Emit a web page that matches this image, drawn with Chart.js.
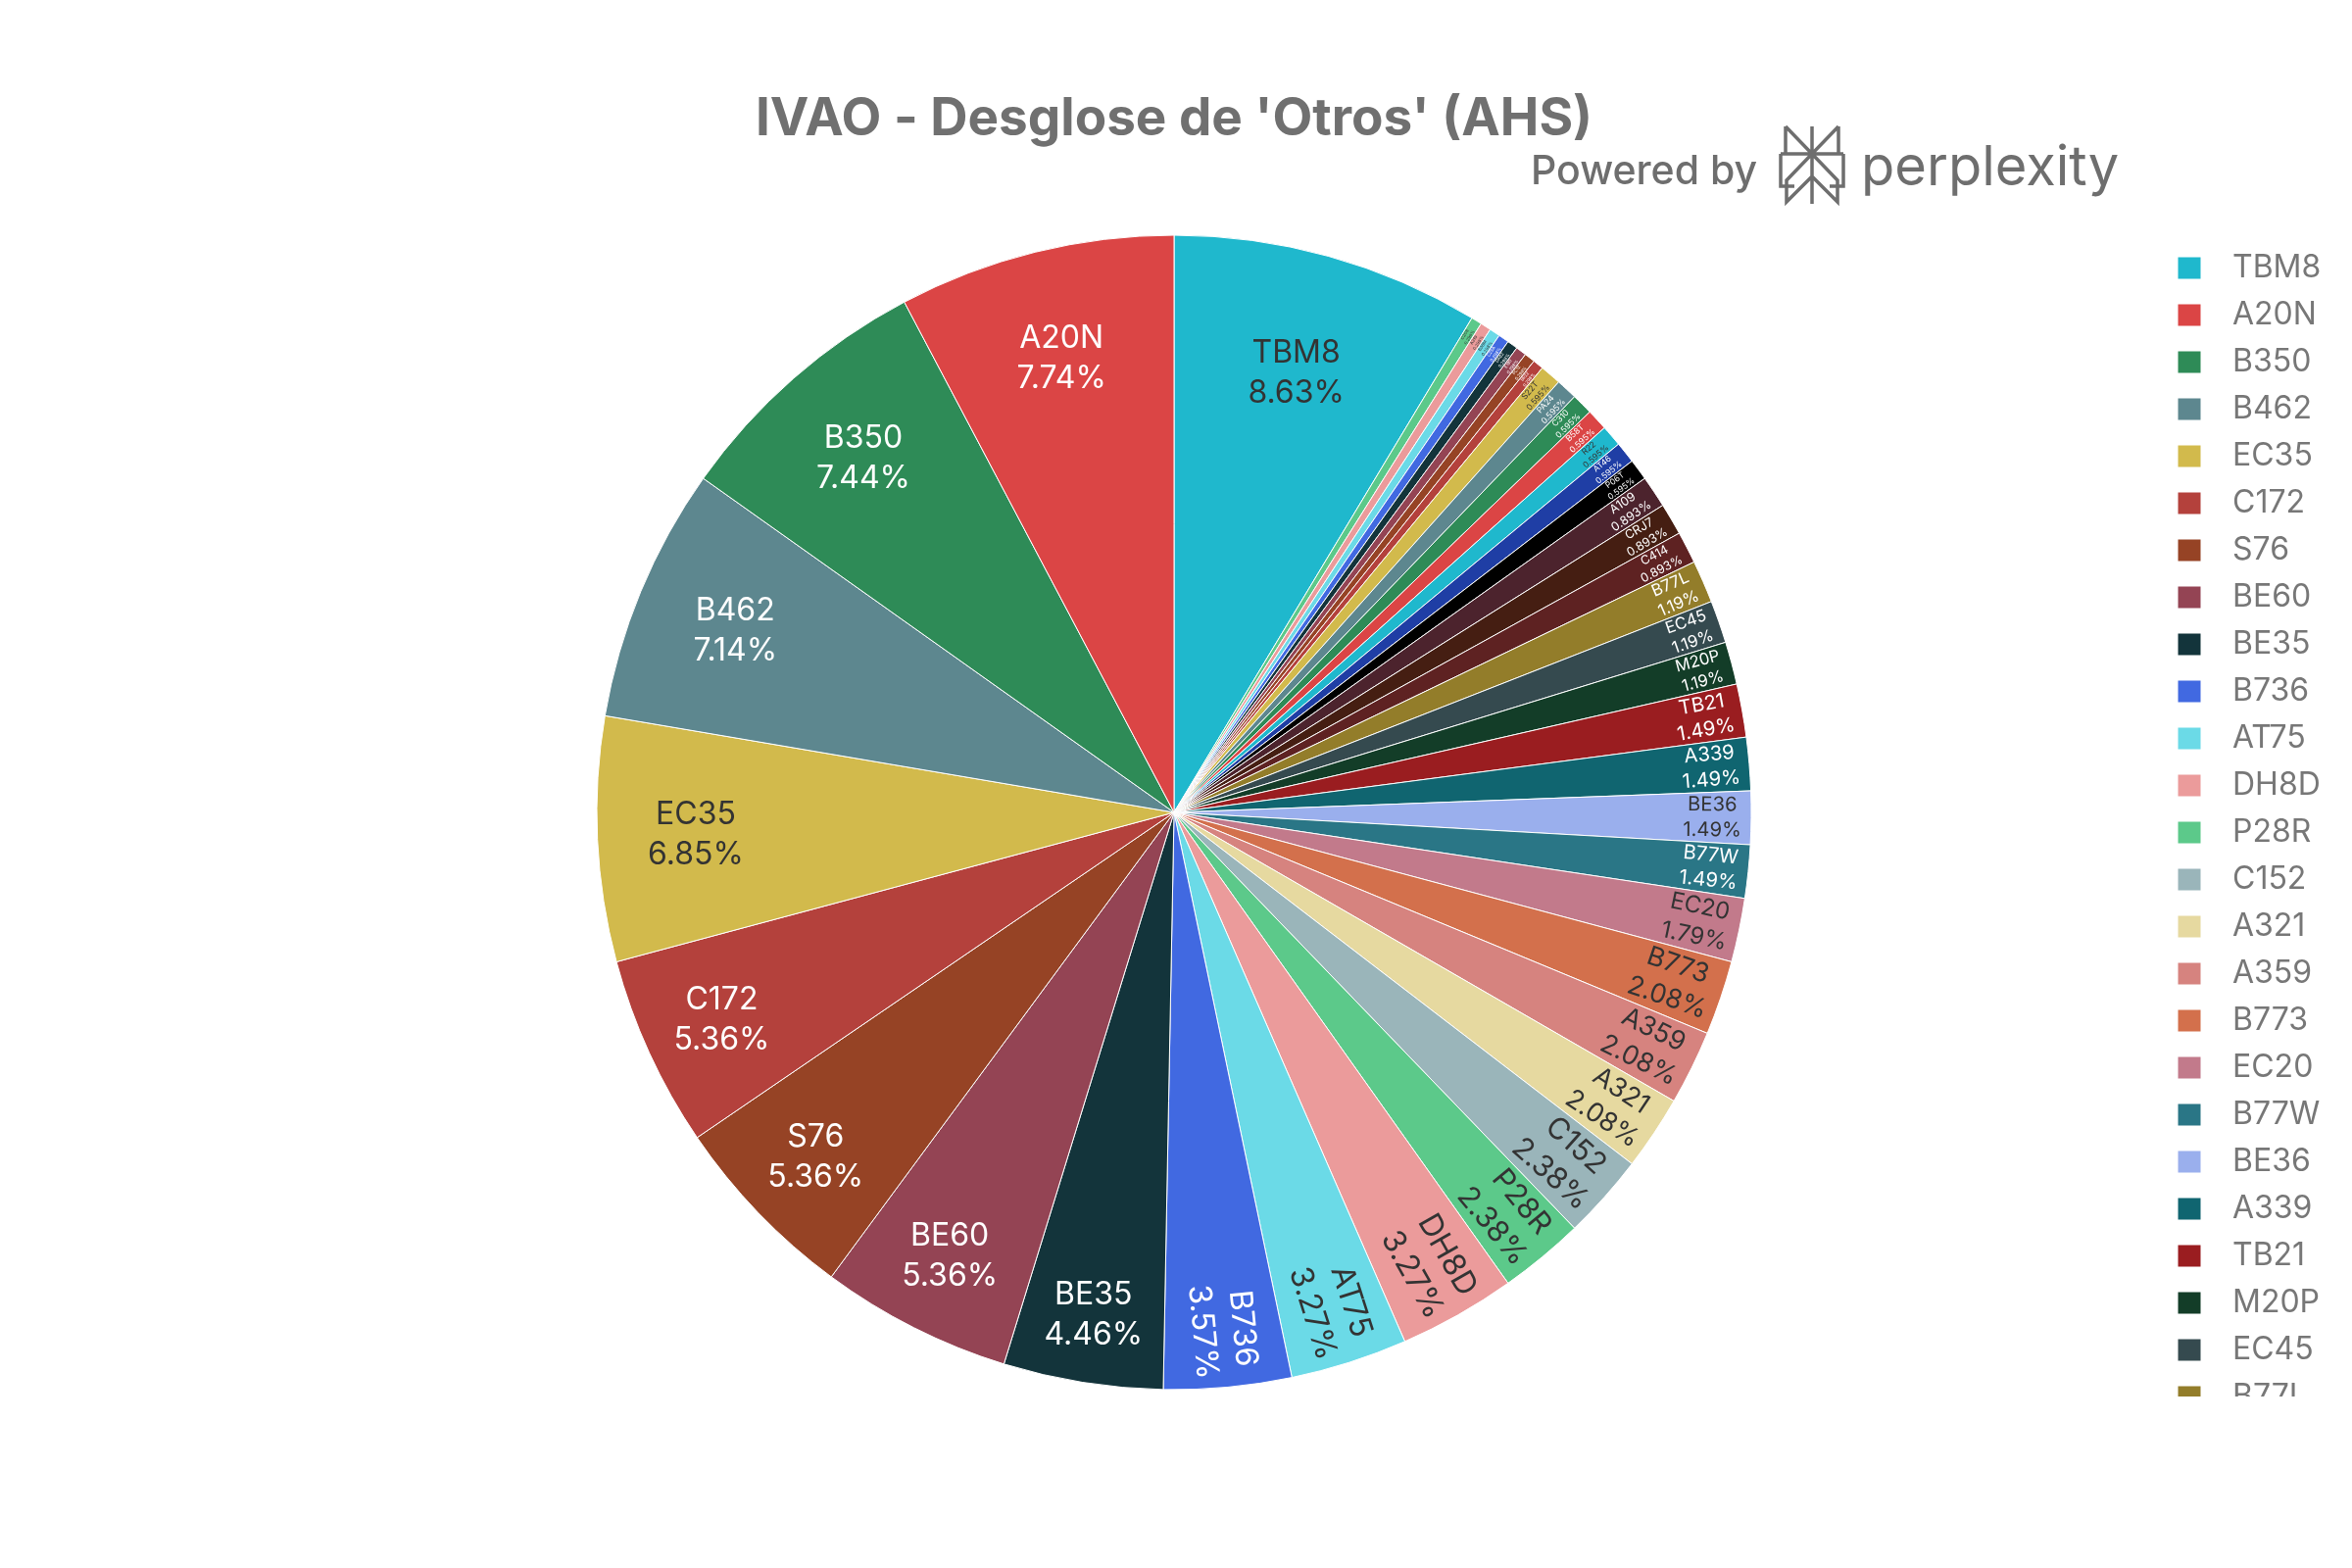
<!DOCTYPE html>
<html>
<head>
<meta charset="utf-8">
<title>IVAO - Desglose de 'Otros' (AHS)</title>
<script src="https://cdn.jsdelivr.net/npm/chart.js@4.4.1/dist/chart.umd.min.js"></script>
<style>
  html, body { margin: 0; padding: 0; background: #ffffff; }
  #wrap { width: 2400px; height: 1600px; position: relative; }
</style>
</head>
<body>
<div id="wrap"><canvas id="graphic-otros"></canvas></div>
<script>
// aircraft types, in legend order (largest first)
const categories = [
    'TBM8', 'A20N', 'B350', 'B462', 'EC35', 'C172', 'S76', 'BE60', 'BE35', 'B736',
    'AT75', 'DH8D', 'P28R', 'C152', 'A321', 'A359', 'B773', 'EC20', 'B77W', 'BE36',
    'A339', 'TB21', 'M20P', 'EC45', 'B77L', 'C414', 'CRJ7', 'A109', 'P06T', 'AT46',
    'R22', 'B58T', 'C310', 'PA24', 'S22T', 'SR22', 'PC12', 'E190', 'DA62', 'C25A',
    'B38M', 'A319', 'C208'
];

// flights per type (336 in total)
const flights = [
    29, 26, 25, 24, 23, 18, 18, 18, 15, 12,
    11, 11, 8, 8, 7, 7, 7, 6, 5, 5,
    5, 5, 4, 4, 4, 3, 3, 3, 2, 2,
    2, 2, 2, 2, 2, 1, 1, 1, 1, 1,
    1, 1, 1
];

const palette = [
    '#1FB8CD', '#DB4545', '#2E8B57', '#5D878F', '#D2BA4C', '#B4413C', '#964325', '#944454', '#13343B', '#4169E1',
    '#6BDAE7', '#EB9B9B', '#5CC98A', '#9AB5BA', '#E6D9A0', '#D6837F', '#D3704C', '#C27A8B', '#2A7686', '#9AAFED',
    '#106570', '#9A1D20', '#133D28', '#354A4F', '#937D2A', '#5E2222', '#451E12', '#4C232D', '#000000', '#1F3EA5'
];

const legendRows = 25;

// first slice clockwise from the top, the rest run counter-clockwise from A20N
const order = [0];
for (let i = categories.length - 1; i > 0; i--) order.push(i);

const pieCenterX = 1198;
const pieRadius = 589;
const legendLeft = 2206;

const probe = document.createElement('canvas').getContext('2d');
probe.font = '32px Inter';
const legendTextW = Math.max(...categories.slice(0, legendRows).map(t => probe.measureText('\u2002' + t).width));
const padRight = 2400 - legendLeft - (16 + 24 + 16 + legendTextW + 10);
const padLeft = 2 * pieCenterX - legendLeft;

function textColour(hex) {
    const c = [1, 3, 5]
        .map(k => parseInt(hex.substr(k, 2), 16) / 255)
        .map(v => v <= 0.03928 ? v / 12.92 : Math.pow((v + 0.055) / 1.055, 2.4));
    const lum = 0.2126 * c[0] + 0.7152 * c[1] + 0.0722 * c[2];
    return lum > 0.235 ? '#333333' : '#ffffff';
}

const sliceLabels = {
    id: 'sliceLabels',
    afterDatasetsDraw(chart) {
        const ctx = chart.ctx;
        const ds = chart.data.datasets[0];
        const total = ds.data.reduce((a, b) => a + b, 0);
        chart.getDatasetMeta(0).data.forEach((arc, i) => {
            const {x, y, startAngle, endAngle, outerRadius} =
                arc.getProps(['x', 'y', 'startAngle', 'endAngle', 'outerRadius'], true);
            const share = ds.data[i] / total;
            const lines = [chart.data.labels[i], (share * 100).toPrecision(3) + '%'];
            const mid = (startAngle + endAngle) / 2;
            const span = endAngle - startAngle;
            let size, d, rot;
            if (share >= 0.04) {
                size = 32;
                d = outerRadius * (0.98 - 2.2 * share);
                rot = 0;
            } else {
                ctx.font = '100px Inter';
                const w1 = Math.max(...lines.map(t => ctx.measureText(t).width)) / 100;
                const pad = 10;
                size = Math.min(32, span * (outerRadius - pad) / (2.4 + span * w1));
                d = outerRadius - pad - size * w1 / 2;
                rot = Math.cos(mid) >= 0 ? mid : mid + Math.PI;
            }
            ctx.save();
            ctx.translate(x + d * Math.cos(mid), y + d * Math.sin(mid));
            ctx.rotate(rot);
            ctx.fillStyle = textColour(ds.backgroundColor[i]);
            ctx.textAlign = 'center';
            ctx.textBaseline = 'middle';
            ctx.font = size + 'px Inter';
            const lh = size * 1.28;
            ctx.fillText(lines[0], 0, -lh / 2);
            ctx.fillText(lines[1], 0, lh / 2);
            ctx.restore();
        });
    }
};

const watermark = {
    id: 'watermark',
    afterDraw(chart) {
        const ctx = chart.ctx;
        const lg = chart.legend;
        ctx.save();
        // legend is cut off like a scrolled box
        ctx.fillStyle = '#ffffff';
        ctx.fillRect(lg.left, 1425, lg.width, 1600 - 1425);

        ctx.fillStyle = '#6e6e6e';
        ctx.strokeStyle = '#6e6e6e';
        ctx.textAlign = 'left';
        ctx.textBaseline = 'alphabetic';
        ctx.font = '500 41px Inter';
        ctx.fillText('Powered by', 1562, 188);
        ctx.font = '400 56px Inter';
        ctx.fillText('perplexity', 1899, 189);

        // logo mark
        ctx.translate(-27, -8);
        ctx.lineWidth = 3.5;
        ctx.beginPath();
        ctx.moveTo(1876, 137); ctx.lineTo(1876, 216);
        ctx.moveTo(1849, 137); ctx.lineTo(1876, 165); ctx.lineTo(1903, 137);
        ctx.moveTo(1849, 137); ctx.lineTo(1849, 165);
        ctx.moveTo(1903, 137); ctx.lineTo(1903, 165);
        ctx.moveTo(1844, 165); ctx.lineTo(1908, 165);
        ctx.moveTo(1844, 165); ctx.lineTo(1844, 198); ctx.lineTo(1858, 198);
        ctx.moveTo(1908, 165); ctx.lineTo(1908, 198); ctx.lineTo(1894, 198);
        ctx.moveTo(1876, 165); ctx.lineTo(1850, 192); ctx.lineTo(1850, 214); ctx.lineTo(1876, 188);
        ctx.moveTo(1876, 165); ctx.lineTo(1902, 192); ctx.lineTo(1902, 214); ctx.lineTo(1876, 188);
        ctx.stroke();
        ctx.restore();
    }
};

const chartOtros = new Chart(document.getElementById('graphic-otros'), {
    type: 'pie',
    data: {
        labels: order.map(i => categories[i]),
        datasets: [{
            data: order.map(i => flights[i]),
            backgroundColor: order.map(i => palette[i % palette.length]),
            borderColor: '#ffffff',
            borderWidth: 1
        }]
    },
    options: {
        responsive: true,
        maintainAspectRatio: false,
        devicePixelRatio: 1,
        animation: false,
        radius: pieRadius,
        layout: {
            padding: {left: padLeft, right: padRight, top: 0, bottom: 138}
        },
        plugins: {
            title: {
                display: true,
                fullSize: false,
                text: "IVAO - Desglose de 'Otros' (AHS)",
                color: '#707070',
                font: {family: 'Inter', size: 53, weight: 700, lineHeight: 1.2},
                padding: {top: 90.2, bottom: 42.2}
            },
            legend: {
                position: 'right',
                align: 'start',
                title: {display: true, text: ' ', font: {size: 10, lineHeight: 1.2}, padding: {top: 229.5, bottom: 0}},
                labels: {
                    font: {family: 'Inter', size: 32},
                    color: '#777777',
                    boxWidth: 24,
                    boxHeight: 23,
                    padding: 16,
                    generateLabels(chart) {
                        const items = Chart.overrides.doughnut.plugins.legend.labels.generateLabels(chart);
                        items.forEach(it => { it.text = '\u2002' + it.text; });
                        return items;
                    },
                    filter: item => order[item.index] < legendRows,
                    sort: (a, b) => order[a.index] - order[b.index]
                }
            },
            tooltip: {enabled: false}
        }
    },
    plugins: [sliceLabels, watermark]
});
</script>
</body>
</html>
